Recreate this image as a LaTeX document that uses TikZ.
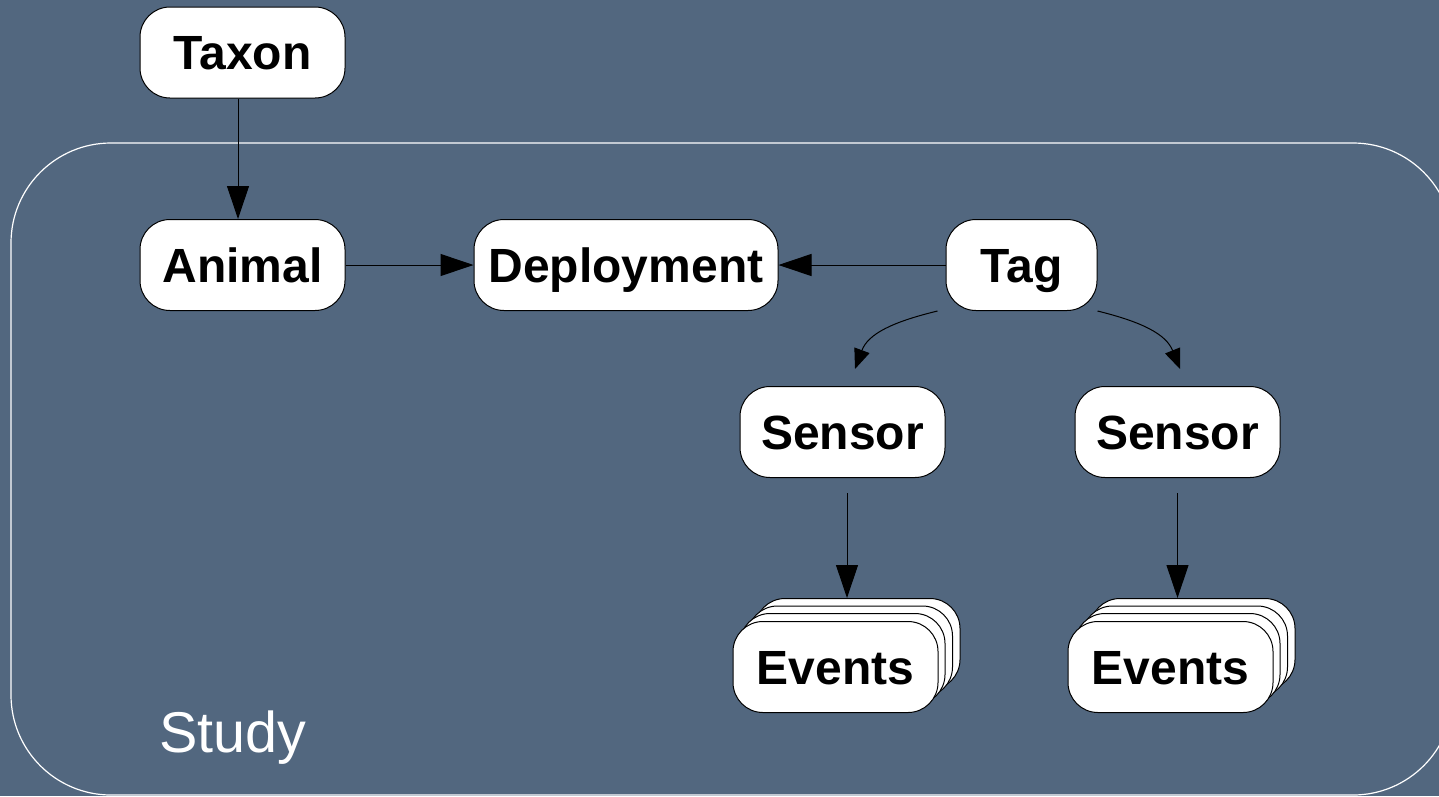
\documentclass[tikz,border=0pt]{standalone}
\usepackage{fontspec}
\setmainfont{Liberation Sans}
\usetikzlibrary{arrows.meta}
\definecolor{slate}{RGB}{82,103,127}
\tikzset{
  entity/.style={draw=black, line width=1pt, fill=white, rounded corners=30pt,
    minimum width=205pt, minimum height=91pt, inner sep=0pt,
    text height=34.5pt, text depth=0pt,
    font=\fontsize{48}{57}\selectfont\bfseries},
  arr/.style={line width=1pt, -{Triangle[length=33pt,width=22pt]}},
  arrsmall/.style={line width=1pt, -{Triangle[length=20pt,width=16pt]}},
  frame/.style={draw=white, line width=1.2pt, rounded corners=100pt},
}
\begin{document}
\begin{tikzpicture}[x=1pt, y=-1pt]
  \fill[slate] (0,0) rectangle (1439,796);
  \useasboundingbox (0,0) rectangle (1439,796);

  % study boundary
  \draw[frame] (11,143) rectangle (1453,795);
  \node[anchor=base west, text=white, font=\fontsize{57.5}{68}\selectfont] (study) at (156,752) {Study};

  % entities
  \node[entity] (taxon) at (242.5,52.5) {Taxon};
  \node[entity] (animal) at (242.5,265) {Animal};
  \node[entity, minimum width=304pt] (deploy) at (626,265) {Deployment};
  \node[entity, minimum width=151pt] (tag) at (1021.5,265) {Tag};
  \node[entity] (s1) at (842.5,432) {Sensor};
  \node[entity] (s2) at (1177.5,432) {Sensor};

  % stacked event collections
  \foreach \n/\cx in {e1/835.5, e2/1170.5} {
    \node[entity] (\n d) at (\cx+22,644) {};
    \node[entity] (\n c) at (\cx+14.5,651.5) {};
    \node[entity] (\n b) at (\cx+7,659) {};
    \node[entity] (\n a) at (\cx,667) {Events};
  }

  % relations
  \draw[arr] ([xshift=-4.5pt]taxon.south) -- ([xshift=-4.5pt]animal.north);
  \draw[arr] (animal.east) -- (deploy.west);
  \draw[arr] (tag.west) -- (deploy.east);
  \draw[arrsmall] ([xshift=-8pt]tag.south west) .. controls (892,322) and (868,334) .. ([xshift=12.5pt,yshift=17pt]s1.north);
  \draw[arrsmall] (tag.south east) .. controls (1142,322) and (1166,334) .. ([xshift=2.5pt,yshift=17pt]s2.north);
  \draw[arr, shorten <=15pt] ([xshift=4.5pt]s1.south) -- ([xshift=4.5pt]s1.south |- e1d.north);
  \draw[arr, shorten <=15pt] (s2.south) -- (s2.south |- e2d.north);
\end{tikzpicture}
\end{document}
